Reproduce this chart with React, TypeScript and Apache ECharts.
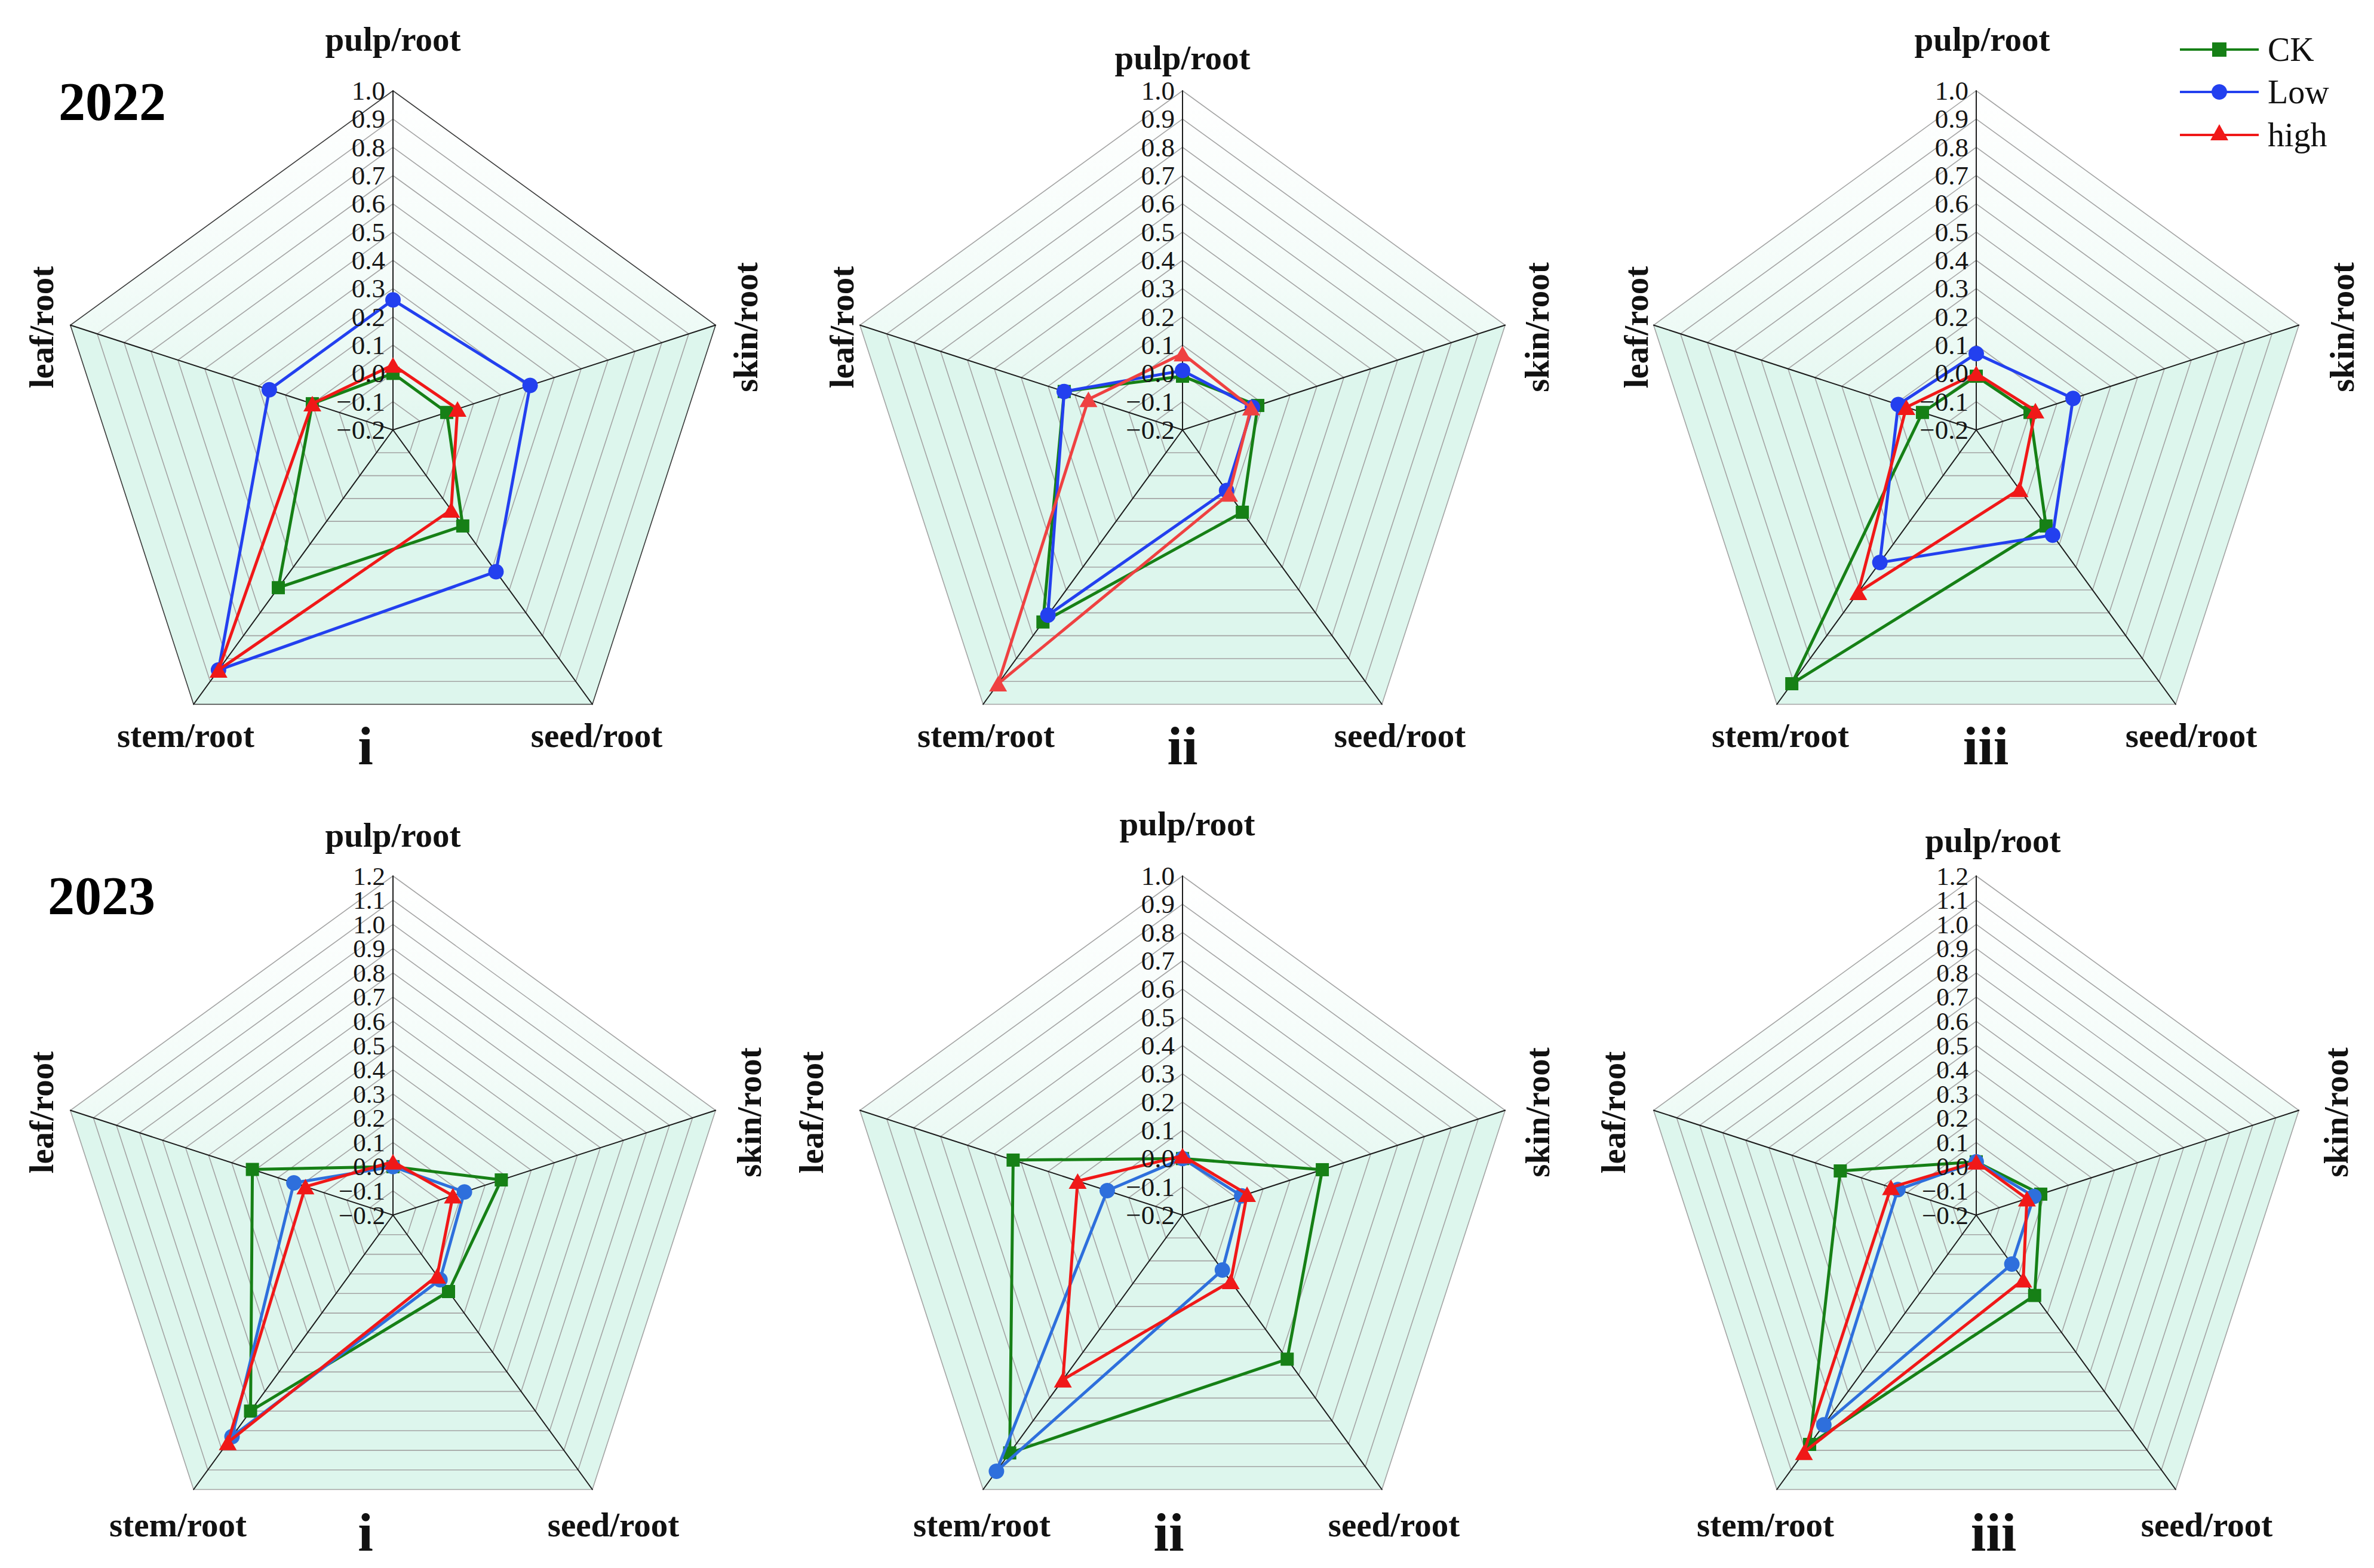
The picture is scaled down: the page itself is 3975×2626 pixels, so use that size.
import React, { useEffect, useRef } from 'react';
import * as echarts from 'echarts';

// ---------- DATA ----------
// Axis names (reading order) and values in order: pulp, skin, seed, stem, leaf
const AXES = ['pulp/root', 'skin/root', 'seed/root', 'stem/root', 'leaf/root'];
const SERIES_NAMES = ['CK', 'Low', 'high'];
const TICK_MIN = -0.2;
const TICK_STEP = 0.1;
const PANEL_MAX = [1.0, 1.0, 1.0, 1.2, 1.0, 1.2];
const PANEL_LABELS = ['i', 'ii', 'iii', 'i', 'ii', 'iii'];
const YEARS = ['2022', '2023'];

const CK_2022_I = [0.0, 0.0, 0.22, 0.49, 0.1];
const LOW_2022_I = [0.26, 0.31, 0.42, 0.85, 0.26];
const HIGH_2022_I = [0.03, 0.04, 0.15, 0.85, 0.1];

const CK_2022_II = [-0.01, 0.08, 0.16, 0.64, 0.24];
const LOW_2022_II = [0.01, 0.06, 0.065, 0.61, 0.24];
const HIGH_2022_II = [0.07, 0.055, 0.08, 0.91, 0.15];

const CK_2022_III = [-0.01, 0.0, 0.22, 0.91, 0.0];
const LOW_2022_III = [0.07, 0.16, 0.26, 0.38, 0.09];
const HIGH_2022_III = [0.0, 0.02, 0.06, 0.51, 0.06];

const CK_2023_I = [0.0, 0.27, 0.19, 0.8, 0.41];
const LOW_2023_I = [0.0, 0.11, 0.13, 0.93, 0.23];
const HIGH_2023_I = [0.02, 0.06, 0.11, 0.96, 0.18];

const CK_2023_II = [0.0, 0.32, 0.43, 0.84, 0.43];
const LOW_2023_II = [0.0, 0.02, 0.04, 0.92, 0.08];
const HIGH_2023_II = [0.01, 0.04, 0.09, 0.52, 0.19];

const CK_2023_III = [0.02, 0.08, 0.21, 0.97, 0.39];
const LOW_2023_III = [0.02, 0.05, 0.05, 0.87, 0.14];
const HIGH_2023_III = [0.02, 0.02, 0.13, 1.01, 0.17];

const PANEL_DATA = [
  [CK_2022_I, LOW_2022_I, HIGH_2022_I],
  [CK_2022_II, LOW_2022_II, HIGH_2022_II],
  [CK_2022_III, LOW_2022_III, HIGH_2022_III],
  [CK_2023_I, LOW_2023_I, HIGH_2023_I],
  [CK_2023_II, LOW_2023_II, HIGH_2023_II],
  [CK_2023_III, LOW_2023_III, HIGH_2023_III],
];

// ---------- LAYOUT / STYLE ----------
const W = 3975;
const H = 2626;
const R = 568;
const COL_X = [658, 1980, 3309];
const ROW_Y = [720, 2035];
const FONT = "'Liberation Serif', 'Times New Roman', serif";
// the radar scale works in tenths so that every tick is an exact integer
const UNIT = 10;

// indicator order around the radar (counter-clockwise from top): pulp, leaf, stem, seed, skin
const ORDER = [0, 4, 3, 2, 1];

const GREEN = '#168016';
const BLUE_2022 = '#2340ef';
const BLUE_2023 = '#2e6fdc';
const RED = '#f01818';
const PANEL_COLORS = [
  [GREEN, BLUE_2022, RED],
  [GREEN, BLUE_2022, '#ef4141'],
  [GREEN, BLUE_2022, RED],
  [GREEN, BLUE_2023, RED],
  [GREEN, BLUE_2023, RED],
  [GREEN, BLUE_2023, RED],
];
const SYMBOLS = ['rect', 'circle', 'triangle'];
const SYMBOL_SIZES: any[] = [22, 26, [30, 26]];

// label offsets relative to each radar centre
const LAYOUT = [
  { pulpDx: 0, pulpY: 65, skinDx: 590, leafDx: -589, stemDx: -347, seedDx: 341, numDx: -46, botDy: 511, numDy: 529 },
  { pulpDx: 0, pulpY: 96, skinDx: 593, leafDx: -571, stemDx: -329, seedDx: 364, numDx: 0, botDy: 511, numDy: 529 },
  { pulpDx: 10, pulpY: 65, skinDx: 612, leafDx: -570, stemDx: -328, seedDx: 360, numDx: 16, botDy: 511, numDy: 529 },
  { pulpDx: 0, pulpY: 1398, skinDx: 596, leafDx: -589, stemDx: -360, seedDx: 369, numDx: -46, botDy: 518, numDy: 531 },
  { pulpDx: 8, pulpY: 1379, skinDx: 594, leafDx: -622, stemDx: -336, seedDx: 354, numDx: -23, botDy: 518, numDy: 531 },
  { pulpDx: 28, pulpY: 1407, skinDx: 602, leafDx: -608, stemDx: -353, seedDx: 386, numDx: 29, botDy: 518, numDy: 531 },
];

const fmt = (tenths: number) => {
  const r = Math.round(tenths) / UNIT;
  return (r < 0 ? '\u2212' : '') + Math.abs(r).toFixed(1);
};

function buildOption() {
  const radars: any[] = [];
  const series: any[] = [];
  const graphics: any[] = [];

  PANEL_DATA.forEach((panel, pi) => {
    const cx = COL_X[pi % 3];
    const cy = ROW_Y[Math.floor(pi / 3)];
    const min = Math.round(TICK_MIN * UNIT);
    const max = Math.round(PANEL_MAX[pi] * UNIT);
    const splitNumber = Math.round((max - min) / (TICK_STEP * UNIT));
    const step = R / splitNumber;
    const ringColors: string[] = [];
    for (let i = 0; i <= splitNumber; i++) {
      ringColors.push(i === splitNumber && pi === 0 ? '#3a3a3a' : '#a4a4a4');
    }
    radars.push({
      center: [cx, cy],
      radius: R,
      startAngle: 90,
      splitNumber,
      shape: 'polygon',
      indicator: ORDER.map((ai) => ({ name: AXES[ai], min, max })),
      axisName: { show: false },
      axisLine: { show: true, lineStyle: { color: '#1c1c1c', width: 2 } },
      axisTick: { show: false },
      axisLabel: { show: false },
      splitLine: { show: true, lineStyle: { color: ringColors, width: 1.6 } },
      splitArea: { show: false },
    });

    // tick labels along the pulp/root axis (one per split ring)
    for (let k = 0; k <= splitNumber; k++) {
      graphics.push({
        type: 'text',
        z: 5,
        silent: true,
        x: cx - 13,
        y: cy - step * k,
        style: {
          text: fmt(min + k * TICK_STEP * UNIT),
          fontSize: step > 45 ? 45 : 43,
          fontFamily: FONT,
          fill: '#151515',
          align: 'right',
          verticalAlign: 'middle',
        },
      });
    }

    panel.forEach((vals, si) => {
      const color = PANEL_COLORS[pi][si];
      series.push({
        type: 'radar',
        radarIndex: pi,
        name: SERIES_NAMES[si],
        z: 2 + si,
        silent: true,
        symbol: SYMBOLS[si],
        symbolSize: SYMBOL_SIZES[si],
        lineStyle: { color, width: 5 },
        itemStyle: { color },
        emphasis: { disabled: true },
        data: [{ name: SERIES_NAMES[si], value: ORDER.map((i) => vals[i] * UNIT) }],
      });
    });

    // background sectors
    const verts = ORDER.map((_, k) => {
      const a = ((90 + 72 * k) * Math.PI) / 180;
      return [cx + R * Math.cos(a), cy - R * Math.sin(a)];
    });
    for (let k = 0; k < 5; k++) {
      const a = verts[k];
      const b = verts[(k + 1) % 5];
      const upper = k === 0 || k === 4;
      graphics.push({
        type: 'polygon',
        z: -100,
        silent: true,
        shape: { points: [[cx, cy], a, b] },
        style: {
          fill: upper
            ? new echarts.graphic.LinearGradient(0, 0, 0, 1, [
                { offset: 0, color: '#ffffff' },
                { offset: 0.55, color: '#f4fcf9' },
                { offset: 1, color: '#e2f7ef' },
              ])
            : '#ddf6ed',
          stroke: 'none',
        },
      });
    }

    const L = LAYOUT[pi];
    const nameStyle = { fontSize: 57, fontWeight: 'bold', fontFamily: FONT, fill: '#111', align: 'center', verticalAlign: 'middle' };
    graphics.push({ type: 'text', z: 10, x: cx + L.pulpDx, y: L.pulpY, style: { ...nameStyle, text: AXES[0] } });
    graphics.push({ type: 'text', z: 10, x: cx + L.skinDx, y: cy - 172, rotation: Math.PI / 2, style: { ...nameStyle, text: AXES[1] } });
    graphics.push({ type: 'text', z: 10, x: cx + L.seedDx, y: cy + L.botDy, style: { ...nameStyle, text: AXES[2] } });
    graphics.push({ type: 'text', z: 10, x: cx + L.stemDx, y: cy + L.botDy, style: { ...nameStyle, text: AXES[3] } });
    graphics.push({ type: 'text', z: 10, x: cx + L.leafDx, y: cy - 172, rotation: Math.PI / 2, style: { ...nameStyle, text: AXES[4] } });
    graphics.push({
      type: 'text', z: 10, x: cx + L.numDx, y: cy + L.numDy,
      style: { text: PANEL_LABELS[pi], fontSize: 92, fontWeight: 'bold', fontFamily: FONT, fill: '#111', align: 'center', verticalAlign: 'middle' },
    });
  });

  // year titles
  const yearStyle = { fontSize: 90, fontWeight: 'bold', fontFamily: FONT, fill: '#000', align: 'center', verticalAlign: 'middle' };
  graphics.push({ type: 'text', z: 10, x: 188, y: 170, style: { ...yearStyle, text: YEARS[0] } });
  graphics.push({ type: 'text', z: 10, x: 170, y: 1500, style: { ...yearStyle, text: YEARS[1] } });

  // legend
  const LEG_COLORS = [GREEN, BLUE_2022, RED];
  const legY = [83, 154, 226];
  SERIES_NAMES.forEach((nm, i) => {
    const y = legY[i];
    const c = LEG_COLORS[i];
    graphics.push({ type: 'line', z: 10, shape: { x1: 3650, y1: y, x2: 3782, y2: y }, style: { stroke: c, lineWidth: 4 } });
    if (i === 0) graphics.push({ type: 'rect', z: 11, shape: { x: 3704, y: y - 12, width: 24, height: 24 }, style: { fill: c } });
    if (i === 1) graphics.push({ type: 'circle', z: 11, shape: { cx: 3716, cy: y, r: 13 }, style: { fill: c } });
    if (i === 2)
      graphics.push({ type: 'polygon', z: 11, shape: { points: [[3716, y - 18], [3731, y + 9], [3701, y + 9]] }, style: { fill: c } });
    graphics.push({
      type: 'text', z: 10, x: 3797, y,
      style: { text: nm, fontSize: 56, fontFamily: FONT, fill: '#111', align: 'left', verticalAlign: 'middle' },
    });
  });

  return {
    animation: false,
    backgroundColor: '#ffffff',
    radar: radars,
    series,
    graphic: { elements: graphics },
  };
}

export default function App() {
  const ref = useRef<HTMLDivElement>(null);
  useEffect(() => {
    if (!ref.current) return;
    const chart = echarts.init(ref.current, undefined, { renderer: 'svg' });
    chart.setOption(buildOption() as any);
    return () => chart.dispose();
  }, []);
  return <div ref={ref} style={{ position: 'absolute', left: 0, top: 0, width: W, height: H, background: '#fff' }} />;
}
